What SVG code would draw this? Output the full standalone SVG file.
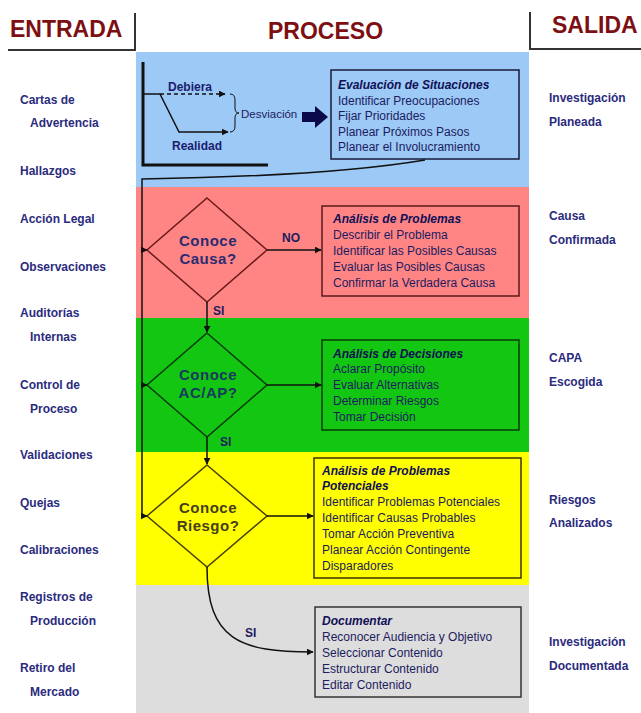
<svg xmlns="http://www.w3.org/2000/svg" width="641" height="713" viewBox="0 0 641 713">
<style>
.hdr{font-family:"Liberation Sans",Arial,sans-serif;font-weight:bold;font-size:23px;fill:#7d0f12}
.side{font-family:"Liberation Sans",Arial,sans-serif;font-weight:bold;font-size:12px;fill:#2b2b7e}
.ttl{font-family:"Liberation Sans",Arial,sans-serif;font-weight:bold;font-style:italic;font-size:12px;fill:#101055}
.item{font-family:"Liberation Sans",Arial,sans-serif;font-size:12px;fill:#1c1c5e}
.dia{font-family:"Liberation Sans",Arial,sans-serif;font-weight:bold;font-size:15px;letter-spacing:0.5px;text-anchor:middle}
.lbl{font-family:"Liberation Sans",Arial,sans-serif;font-weight:bold;font-size:12px;fill:#1c1c5e}
.box{fill:none;stroke-width:1.5}
.ln{fill:none;stroke:#111;stroke-width:1.5}
.hl{fill:none;stroke:#333;stroke-width:2}
</style>
<defs>
<marker id="arr" viewBox="0 0 10 10" refX="9" refY="5" markerWidth="7" markerHeight="7" markerUnits="userSpaceOnUse" orient="auto">
<path d="M0,0 L10,5 L0,10 z" fill="#111"/>
</marker>
<marker id="arrB" viewBox="0 0 10 10" refX="9" refY="5" markerWidth="8" markerHeight="8" markerUnits="userSpaceOnUse" orient="auto">
<path d="M0,0 L10,5 L0,10 z" fill="#0a0a4a"/>
</marker>
</defs>
<rect width="641" height="713" fill="#ffffff"/>

<!-- bands -->
<g id="bands">
<rect x="136" y="52" width="393" height="135" fill="#9dc9f6"/>
<rect x="136" y="187" width="393" height="131" fill="#ff8585"/>
<rect x="136" y="318" width="393" height="134" fill="#12c612"/>
<rect x="136" y="452" width="393" height="133" fill="#ffff00"/>
<rect x="136" y="585" width="393" height="128" fill="#dddddd"/>
</g>

<!-- headers -->
<g id="headers">
<text class="hdr" x="10" y="37">ENTRADA</text>
<text class="hdr" x="268" y="39">PROCESO</text>
<text class="hdr" x="552" y="33">SALIDA</text>
<path class="hl" d="M8,50 H135 V13"/>
<path class="hl" d="M641,49 H530 V12"/>
</g>

<!-- left inputs -->
<g id="entradas">
<text class="side" x="20" y="104">Cartas de</text>
<text class="side" x="30" y="127">Advertencia</text>
<text class="side" x="20" y="175">Hallazgos</text>
<text class="side" x="20" y="223">Acción Legal</text>
<text class="side" x="20" y="271">Observaciones</text>
<text class="side" x="20" y="317">Auditorías</text>
<text class="side" x="30" y="341">Internas</text>
<text class="side" x="20" y="389">Control de</text>
<text class="side" x="30" y="413">Proceso</text>
<text class="side" x="20" y="459">Validaciones</text>
<text class="side" x="20" y="507">Quejas</text>
<text class="side" x="20" y="554">Calibraciones</text>
<text class="side" x="20" y="601">Registros de</text>
<text class="side" x="30" y="625">Producción</text>
<text class="side" x="20" y="672">Retiro del</text>
<text class="side" x="30" y="696">Mercado</text>
</g>

<!-- right outputs -->
<g id="salidas">
<text class="side" x="549" y="102">Investigación</text>
<text class="side" x="549" y="126">Planeada</text>
<text class="side" x="549" y="220">Causa</text>
<text class="side" x="549" y="244">Confirmada</text>
<text class="side" x="549" y="362">CAPA</text>
<text class="side" x="549" y="386">Escogida</text>
<text class="side" x="549" y="504">Riesgos</text>
<text class="side" x="549" y="527">Analizados</text>
<text class="side" x="549" y="646">Investigación</text>
<text class="side" x="549" y="670">Documentada</text>
</g>

<!-- deviation chart -->
<g id="chart">
<path d="M143,62 V165 H268" fill="none" stroke="#111" stroke-width="3"/>
<path d="M143,94 H160" class="ln"/>
<path d="M160,94 H225" class="ln" stroke-dasharray="4,3" marker-end="url(#arr)"/>
<path d="M160,94 L179,132 H228" class="ln" marker-end="url(#arr)"/>
<path d="M230,94 Q235,94 235,100 V108 Q235,113 239,113 Q235,113 235,118 V126 Q235,132 230,132" fill="none" stroke="#111" stroke-width="1"/>
<text x="168" y="91" style="font-family:'Liberation Sans',Arial,sans-serif;font-weight:bold;font-size:12px;fill:#1c1c6e">Debiera</text>
<text x="172" y="150" style="font-family:'Liberation Sans',Arial,sans-serif;font-weight:bold;font-size:12px;fill:#1c1c6e">Realidad</text>
<text x="241" y="118" class="item" style="font-size:11.5px">Desviación</text>
<path d="M302,112 H315 V106 L328,117 L315,128 V122 H302 z" fill="#0a0a4a"/>
</g>

<!-- boxes -->
<g id="box-situaciones">
<rect class="box" x="331" y="70" width="188" height="89" stroke="#1a1a3a"/>
<text class="ttl" x="338" y="89">Evaluación de Situaciones</text>
<text class="item" x="338" y="105">Identificar Preocupaciones</text>
<text class="item" x="338" y="120">Fijar Prioridades</text>
<text class="item" x="338" y="136">Planear Próximos Pasos</text>
<text class="item" x="338" y="151">Planear el Involucramiento</text>
</g>

<g id="box-problemas">
<rect class="box" x="322" y="206" width="197" height="90" stroke="#5a1818"/>
<text class="ttl" x="333" y="223">Análisis de Problemas</text>
<text class="item" x="333" y="239">Describir el Problema</text>
<text class="item" x="333" y="255">Identificar las Posibles Causas</text>
<text class="item" x="333" y="271">Evaluar las Posibles Causas</text>
<text class="item" x="333" y="287">Confirmar la Verdadera Causa</text>
</g>

<g id="box-decisiones">
<rect class="box" x="322" y="340" width="197" height="90" stroke="#0a3a0a"/>
<text class="ttl" x="333" y="358">Análisis de Decisiones</text>
<text class="item" x="333" y="373">Aclarar Propósito</text>
<text class="item" x="333" y="389">Evaluar Alternativas</text>
<text class="item" x="333" y="405">Determinar Riesgos</text>
<text class="item" x="333" y="421">Tomar Decisión</text>
</g>

<g id="box-potenciales">
<rect class="box" x="314" y="458" width="207" height="120" stroke="#3a3400"/>
<text class="ttl" x="322" y="475">Análisis de Problemas</text>
<text class="ttl" x="322" y="490">Potenciales</text>
<text class="item" x="322" y="506">Identificar Problemas Potenciales</text>
<text class="item" x="322" y="522">Identificar Causas Probables</text>
<text class="item" x="322" y="538">Tomar Acción Preventiva</text>
<text class="item" x="322" y="554">Planear Acción Contingente</text>
<text class="item" x="322" y="570">Disparadores</text>
</g>

<g id="box-documentar">
<rect class="box" x="315" y="607" width="206" height="90" stroke="#333"/>
<text class="ttl" x="322" y="625">Documentar</text>
<text class="item" x="322" y="641">Reconocer Audiencia y Objetivo</text>
<text class="item" x="322" y="657">Seleccionar Contenido</text>
<text class="item" x="322" y="673">Estructurar Contenido</text>
<text class="item" x="322" y="689">Editar Contenido</text>
</g>

<!-- diamonds -->
<g id="dia-causa">
<path d="M207,198 L267,250 L207,302 L147,250 z" fill="none" stroke="#6a1a1a" stroke-width="1.5"/>
<text class="dia" x="208" y="246" fill="#2b2b70">Conoce</text>
<text class="dia" x="208" y="264" fill="#2b2b70">Causa?</text>
</g>
<g id="dia-acap">
<path d="M207,333 L267,385 L207,437 L147,385 z" fill="none" stroke="#0a3a0a" stroke-width="1.5"/>
<text class="dia" x="208" y="380" fill="#173a5e">Conoce</text>
<text class="dia" x="208" y="398" fill="#173a5e">AC/AP?</text>
</g>
<g id="dia-riesgo">
<path d="M207,465 L267,516 L207,567 L147,516 z" fill="none" stroke="#4a4000" stroke-width="1.5"/>
<text class="dia" x="208" y="513" fill="#463d1c">Conoce</text>
<text class="dia" x="208" y="531" fill="#463d1c">Riesgo?</text>
</g>

<!-- connectors -->
<g id="connectors">
<path class="ln" d="M425,160 Q330,176 142,179 V516 H147" marker-end="url(#arr)"/>
<path class="ln" d="M142,250 H147" marker-end="url(#arr)"/>
<path class="ln" d="M142,385 H147" marker-end="url(#arr)"/>
<path class="ln" d="M267,250 H321" marker-end="url(#arr)"/>
<path class="ln" d="M267,385 H321" marker-end="url(#arr)"/>
<path class="ln" d="M267,516 H313" marker-end="url(#arr)"/>
<path class="ln" d="M207,302 V332" marker-end="url(#arr)"/>
<path class="ln" d="M207,437 V464" marker-end="url(#arr)"/>
<path class="ln" d="M207,567 C207,640 240,652 313,652" marker-end="url(#arr)"/>
<text class="lbl" x="282" y="242">NO</text>
<text class="lbl" x="213" y="315">SI</text>
<text class="lbl" x="220" y="446">SI</text>
<text class="lbl" x="245" y="637">SI</text>
</g>
</svg>
